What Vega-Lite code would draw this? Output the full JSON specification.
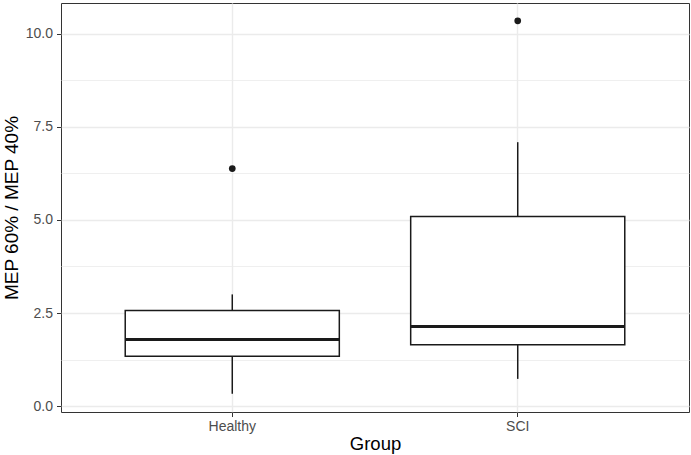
{
  "$schema": "https://vega.github.io/schema/vega-lite/v6.json",
  "width": 628,
  "height": 409,
  "autosize": {"type": "none"},
  "padding": {"left": 61, "top": 3, "right": 2, "bottom": 43},
  "background": "white",
  "datasets": {
    "stats": [
      {"group": "Healthy", "lower": 0.33, "q1": 1.34, "median": 1.79, "q3": 2.57, "upper": 3.0},
      {"group": "SCI", "lower": 0.73, "q1": 1.65, "median": 2.14, "q3": 5.09, "upper": 7.09}
    ],
    "outliers": [
      {"group": "Healthy", "value": 6.38},
      {"group": "SCI", "value": 10.35}
    ]
  },
  "encoding": {
    "x": {
      "field": "group",
      "type": "nominal",
      "scale": {"domain": ["Healthy", "SCI"], "paddingInner": 0.25, "paddingOuter": 0.225},
      "axis": {
        "title": "Group",
        "labelAngle": 0,
        "bandPosition": 0.5,
        "grid": true,
        "gridColor": "#ebebeb",
        "gridWidth": 1.4,
        "domain": false,
        "tickColor": "#333333",
        "tickSize": 4.5,
        "tickWidth": 1,
        "labelColor": "#4d4d4d",
        "labelFontSize": 14,
        "labelPadding": 3,
        "titleFontSize": 18.5,
        "titleFontWeight": "normal",
        "titleColor": "#000000",
        "titlePadding": 1
      }
    }
  },
  "layer": [
    {
      "data": {"name": "stats"},
      "mark": {"type": "rule", "color": "#1a1a1a", "strokeWidth": 1.5},
      "encoding": {
        "y": {
          "field": "lower",
          "type": "quantitative",
          "scale": {"domain": [-0.16, 10.83], "nice": false, "zero": false},
          "axis": {
            "values": [0, 1.25, 2.5, 3.75, 5, 6.25, 7.5, 8.75, 10],
            "labelExpr": "datum.value % 2.5 === 0 ? format(datum.value, '.1f') : ''",
            "grid": true,
            "gridColor": "#ebebeb",
            "gridWidth": {"condition": {"test": "datum.value % 2.5 !== 0", "value": 0.8}, "value": 1.4},
            "domain": false,
            "tickColor": {"condition": {"test": "datum.value % 2.5 !== 0", "value": "transparent"}, "value": "#333333"},
            "tickSize": 4.5,
            "tickWidth": 1,
            "labelColor": "#4d4d4d",
            "labelFontSize": 14,
            "labelPadding": 4,
            "title": "MEP 60% / MEP 40%",
            "titleFontSize": 19,
            "titleFontWeight": "normal",
            "titleColor": "#000000",
            "titlePadding": 4
          }
        },
        "y2": {"field": "upper"}
      }
    },
    {
      "data": {"name": "stats"},
      "mark": {"type": "bar", "fill": "white", "stroke": "#1a1a1a", "strokeWidth": 1.5},
      "encoding": {
        "y": {"field": "q1", "type": "quantitative"},
        "y2": {"field": "q3"}
      }
    },
    {
      "data": {"name": "stats"},
      "mark": {"type": "tick", "color": "#1a1a1a", "thickness": 3, "size": 214, "opacity": 1},
      "encoding": {
        "y": {"field": "median", "type": "quantitative"}
      }
    },
    {
      "data": {"name": "outliers"},
      "mark": {"type": "point", "filled": true, "color": "#1a1a1a", "size": 45, "opacity": 1},
      "encoding": {
        "y": {"field": "value", "type": "quantitative"}
      }
    }
  ],
  "config": {
    "font": "Liberation Sans",
    "view": {"stroke": "#333333", "strokeWidth": 1}
  }
}
